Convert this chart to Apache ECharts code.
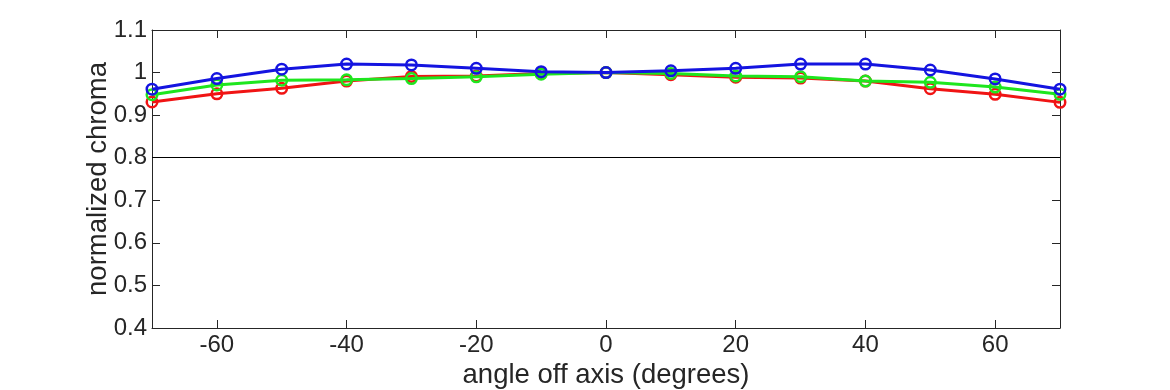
<!DOCTYPE html>
<html>
<head>
<meta charset="utf-8">
<script src="https://cdn.jsdelivr.net/npm/echarts@6/dist/echarts.min.js"></script>
<style>html,body{margin:0;padding:0;background:#fff}#c{width:1170px;height:390px}</style>
</head>
<body>
<div id="c"></div>
<script>
const angles = [-70, -60, -50, -40, -30, -20, -10, 0, 10, 20, 30, 40, 50, 60, 70];
const redValues   = [0.931, 0.950, 0.963, 0.980, 0.991, 0.992, 0.998, 1.000, 0.995, 0.989, 0.987, 0.980, 0.962, 0.949, 0.930];
const greenValues = [0.948, 0.971, 0.982, 0.983, 0.986, 0.990, 0.996, 1.000, 0.998, 0.992, 0.990, 0.980, 0.977, 0.966, 0.949];
const blueValues  = [0.961, 0.986, 1.008, 1.020, 1.018, 1.010, 1.002, 1.000, 1.004, 1.010, 1.020, 1.020, 1.006, 0.985, 0.961];
const xTicks = [-60, -40, -20, 0, 20, 40, 60];
const referenceLevel = 0.8;

const axisColor = '#262626';
const font = 'Liberation Sans, Arial, Helvetica, sans-serif';

function mk(vals, color, z) {
  return {
    type: 'line',
    data: angles.map((a, i) => [a, vals[i]]),
    symbol: 'circle',
    symbolSize: 10.5,
    z: z,
    lineStyle: { color: color, width: 3 },
    itemStyle: { color: 'rgba(0,0,0,0)', borderColor: color, borderWidth: 2.5 },
    emphasis: { disabled: true },
    animation: false
  };
}

const chart = echarts.init(document.getElementById('c'), null, { renderer: 'canvas' });
const series = [mk(redValues, '#f01414', 3), mk(greenValues, '#1ee61e', 4), mk(blueValues, '#1414e0', 5)];
series[0].markLine = {
  silent: true,
  symbol: ['none', 'none'],
  label: { show: false },
  lineStyle: { color: '#000', width: 1.2, type: 'solid' },
  data: [{ yAxis: referenceLevel }],
  animation: false
};

const baseX = {
  type: 'value', min: -70, max: 70,
  axisLine: { show: true, onZero: false, lineStyle: { color: axisColor, width: 1 } },
  axisTick: { show: true, inside: true, length: 8, customValues: xTicks, lineStyle: { color: axisColor } },
  splitLine: { show: false }
};
const baseY = {
  type: 'value', min: 0.4, max: 1.1, interval: 0.1,
  axisLine: { show: true, onZero: false, lineStyle: { color: axisColor, width: 1 } },
  axisTick: { show: true, inside: true, length: 8, lineStyle: { color: axisColor } },
  splitLine: { show: false }
};

chart.setOption({
  animation: false,
  backgroundColor: '#fff',
  grid: { left: 152, right: 110, top: 30, bottom: 62, containLabel: false, outerBoundsMode: 'none' },
  xAxis: [
    Object.assign({}, baseX, {
      position: 'bottom',
      name: 'angle off axis (degrees)', nameLocation: 'middle', nameGap: 33, nameMoveOverlap: false,
      nameTextStyle: { color: axisColor, fontSize: 27.5, fontFamily: font },
      axisLabel: { show: true, customValues: xTicks, color: axisColor, fontSize: 24, fontFamily: font, margin: 5 }
    }),
    Object.assign({}, baseX, { position: 'top', axisLabel: { show: false } })
  ],
  yAxis: [
    Object.assign({}, baseY, {
      position: 'left',
      name: 'normalized chroma', nameLocation: 'middle', nameGap: 40, nameMoveOverlap: false,
      nameTextStyle: { color: axisColor, fontSize: 27.5, fontFamily: font },
      axisLabel: { show: true, color: axisColor, fontSize: 24, fontFamily: font, margin: 5,
        formatter: v => String(Math.round(v * 10) / 10) }
    }),
    Object.assign({}, baseY, { position: 'right', axisLabel: { show: false } })
  ],
  series: series
});
</script>
</body>
</html>
